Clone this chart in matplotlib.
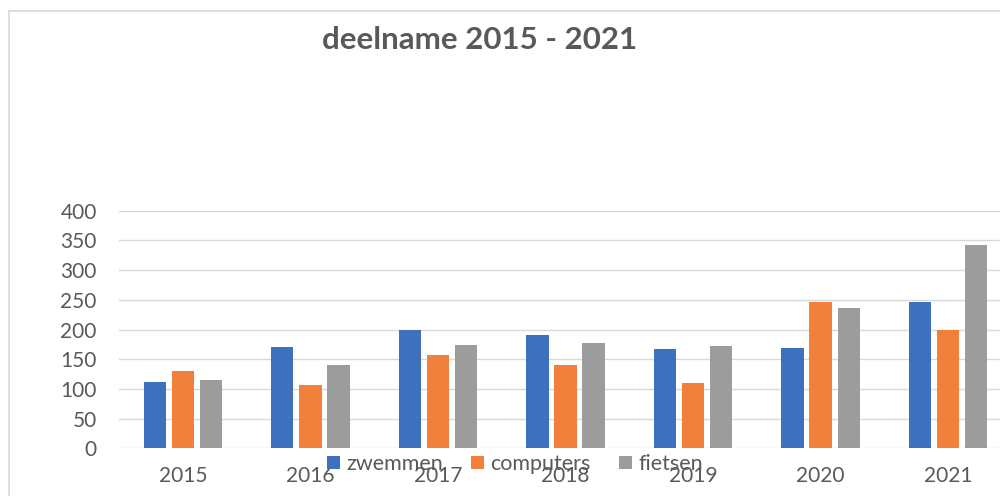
import matplotlib
matplotlib.use("Agg")
import matplotlib.pyplot as plt
from matplotlib.lines import Line2D
import numpy as np

years = ["2015", "2016", "2017", "2018", "2019", "2020", "2021"]
zwemmen = [112, 170, 200, 190, 167, 169, 247]
computers = [130, 107, 157, 140, 110, 247, 200]
fietsen = [115, 140, 174, 177, 172, 237, 342]
series_names = ["zwemmen", "computers", "fietsen"]
colors = ["#3E71BD", "#F0803A", "#9B9D9D"]
yticks = [0, 50, 100, 150, 200, 250, 300, 350, 400]

plt.rcParams['font.family'] = ['Lato', 'DejaVu Sans']
text_color = "#595959"
grid_color = "#D9D9D9"

fig = plt.figure(figsize=(10, 4.96), dpi=100)
ax = fig.add_axes([0.119, 47.7 / 496, 0.893, 237.6 / 496])

x = np.arange(len(years))
offset = 0.22
width = 0.175
for i, (vals, name, c) in enumerate(zip([zwemmen, computers, fietsen], series_names, colors)):
    ax.bar(x + (i - 1) * offset, vals, width=width, color=c, label=name, zorder=3)

ax.set_xlim(-0.5, len(years) - 0.5)
ax.set_ylim(0, 400)
ax.set_yticks(yticks)
ax.set_xticks(x)
ax.set_xticklabels(years)
ax.yaxis.grid(True, color=grid_color, linewidth=1.0, zorder=0)
ax.set_axisbelow(True)
for s in ax.spines.values():
    s.set_visible(False)
ax.tick_params(axis='both', length=0, labelsize=15, colors=text_color)
ax.tick_params(axis='y', pad=16)
ax.tick_params(axis='x', pad=13)

fig.text(0.48, (496 - 49) / 496, "deelname 2015 - 2021", ha='center', va='baseline',
         fontsize=22.5, fontweight='bold', color=text_color)

leg = fig.legend(loc='center', bbox_to_anchor=(0.515, (496 - 464) / 496), ncol=3,
                 frameon=False, fontsize=15.5, handlelength=0.6, handleheight=0.6,
                 handletextpad=0.3, columnspacing=1.3, borderaxespad=0, borderpad=0)
for t in leg.get_texts():
    t.set_color(text_color)

# outer frame lines (left and top)
fig.add_artist(Line2D([8.5 / 1000, 8.5 / 1000], [0, (496 - 11) / 496], transform=fig.transFigure,
                      color=grid_color, linewidth=1.2))
fig.add_artist(Line2D([8.5 / 1000, 1.0], [(496 - 11) / 496, (496 - 11) / 496], transform=fig.transFigure,
                      color=grid_color, linewidth=1.2))

fig.savefig("out.png", dpi=100)
